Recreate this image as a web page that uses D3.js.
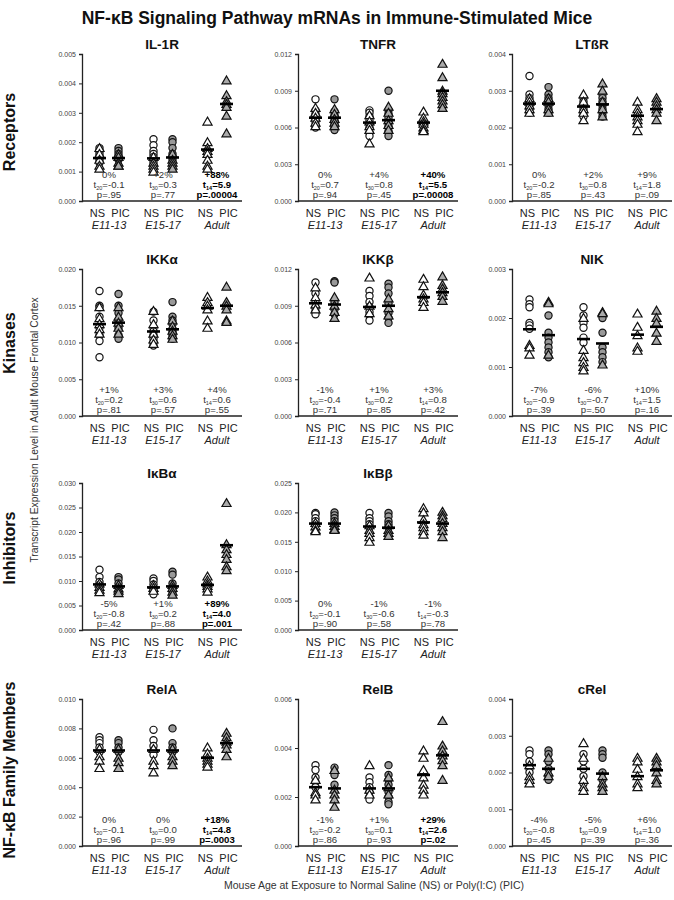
<!DOCTYPE html>
<html><head><meta charset="utf-8">
<script src="https://cdn.jsdelivr.net/npm/d3@7"></script>
<style>body{margin:0;background:#fff}svg{display:block}</style>
</head><body>
<script>
// ---------- DATA ----------
const ages = ["E11-13", "E15-17", "Adult"];
const treatments = ["NS", "PIC"];
const rowLabels = ["Receptors", "Kinases", "Inhibitors", "NF-κB Family Members"];
const geneNames = ["IL-1R", "TNFR", "LTßR", "IKKα", "IKKβ", "NIK", "IκBα", "IκBβ", "RelA", "RelB", "cRel"];
const geneRow = [0, 0, 0, 1, 1, 1, 2, 2, 3, 3, 3];
const geneCol = [0, 1, 2, 0, 1, 2, 0, 1, 0, 1, 2];
const yMax = [0.005, 0.012, 0.004, 0.020, 0.012, 0.003, 0.030, 0.025, 0.010, 0.006, 0.004];
const yStep = [0.001, 0.003, 0.001, 0.005, 0.003, 0.001, 0.005, 0.005, 0.002, 0.002, 0.001];

// groups order: NS E11-13, PIC E11-13, NS E15-17, PIC E15-17, NS Adult, PIC Adult ; each [circles, triangles]
const ptsIL1R = [
  [[0.0018,0.0017,0.0016,0.0015,0.0014,0.0013],[0.0018,0.0016,0.0014,0.0012,0.0011]],
  [[0.0018,0.0017,0.0016,0.0015,0.0014],[0.0016,0.0015,0.0013,0.0012,0.0012]],
  [[0.0021,0.0019,0.0017,0.0016,0.0015,0.0014,0.0013,0.0012],[0.0015,0.0013,0.0012,0.0011,0.0010]],
  [[0.0021,0.0020,0.0018,0.0016,0.0015,0.0014],[0.0016,0.0014,0.0013,0.0012,0.0011]],
  [[],[0.0027,0.0020,0.0018,0.0017,0.0016,0.0014,0.0012,0.0011]],
  [[],[0.0041,0.0036,0.0034,0.0033,0.0032,0.0029,0.0023]]];
const ptsTNFR = [
  [[0.0083,0.0074,0.0071,0.0068,0.0065,0.0062,0.0060],[0.0076,0.0072,0.0068,0.0064,0.0061]],
  [[0.0083,0.0073,0.0070,0.0066,0.0063,0.0060,0.0058],[0.0075,0.0071,0.0067,0.0064,0.0061]],
  [[0.0074,0.0072,0.0069,0.0066,0.0063,0.0060,0.0056,0.0053],[0.0070,0.0065,0.0061,0.0058,0.0047]],
  [[0.0090,0.0074,0.0071,0.0068,0.0064,0.0061,0.0057,0.0053],[0.0077,0.0072,0.0066,0.0062,0.0058]],
  [[],[0.0073,0.0068,0.0065,0.0063,0.0060,0.0058,0.0057]],
  [[],[0.0112,0.0101,0.0090,0.0088,0.0085,0.0082,0.0079,0.0076]]];
const ptsLTBR = [
  [[0.0034,0.0029,0.0028,0.0027,0.0026,0.0025,0.0024],[0.0028,0.0027,0.0026,0.0025,0.0024]],
  [[0.0031,0.0029,0.0028,0.0027,0.0026,0.0025,0.0024],[0.0028,0.0027,0.0025,0.0024]],
  [[0.0028,0.0027,0.0026,0.0025,0.0024,0.0023],[0.0029,0.0027,0.0025,0.0024,0.0022]],
  [[0.0029,0.0028,0.0027,0.0026,0.0025,0.0024,0.0023],[0.0032,0.0030,0.0027,0.0025,0.0023]],
  [[],[0.0027,0.0025,0.0024,0.0023,0.0022,0.0021,0.0019]],
  [[],[0.0028,0.0027,0.0026,0.0025,0.0024,0.0022]]];
const ptsIKKa = [
  [[0.0170,0.0150,0.0148,0.0135,0.0120,0.0110,0.0102,0.0080],[0.0148,0.0133,0.0125,0.0118,0.0112]],
  [[0.0166,0.0150,0.0140,0.0130,0.0120,0.0110,0.0105],[0.0148,0.0135,0.0127,0.0120,0.0112]],
  [[0.0142,0.0130,0.0120,0.0115,0.0110,0.0105,0.0100,0.0096],[0.0143,0.0125,0.0112,0.0104,0.0098]],
  [[0.0155,0.0135,0.0130,0.0125,0.0115,0.0110,0.0105],[0.0130,0.0122,0.0116,0.0110,0.0105]],
  [[],[0.0162,0.0155,0.0150,0.0145,0.0130,0.0120]],
  [[],[0.0176,0.0155,0.0150,0.0145,0.0130,0.0128]]];
const ptsIKKb = [
  [[0.0109,0.0100,0.0094,0.0088,0.0085,0.0083],[0.0105,0.0097,0.0091,0.0087]],
  [[0.0110,0.0109,0.0093,0.0087,0.0083],[0.0097,0.0090,0.0085,0.0080]],
  [[0.0102,0.0098,0.0093,0.0089,0.0085,0.0082,0.0078],[0.0113,0.0090,0.0084]],
  [[0.0108,0.0105,0.0100,0.0092,0.0084,0.0080,0.0076],[0.0096,0.0088,0.0082]],
  [[],[0.0112,0.0106,0.0099,0.0096,0.0093,0.0089]],
  [[],[0.0114,0.0107,0.0104,0.0101,0.0098,0.0094]]];
const ptsNIK = [
  [[0.00238,0.00228,0.00222,0.0019,0.00185,0.00178],[0.00145,0.0014,0.00125]],
  [[0.00205,0.0017,0.0016,0.0015,0.0014,0.0013,0.0012],[0.00233,0.0023,0.00125]],
  [[0.00222,0.00205,0.0019,0.0018,0.0016,0.0015],[0.0020,0.00135,0.0012,0.0011,0.0010,0.00093]],
  [[0.00205,0.0020,0.0017,0.0014,0.0013,0.0012,0.0011],[0.00212,0.0021,0.00105]],
  [[],[0.00209,0.00182,0.00165,0.0014,0.00133]],
  [[],[0.00215,0.0020,0.0019,0.0017,0.00153]]];
const ptsIkBa = [
  [[0.0123,0.0108,0.0098,0.0092,0.0087],[0.0095,0.0088,0.0082,0.0077]],
  [[0.0108,0.0103,0.0095,0.0088],[0.0092,0.0085,0.0080,0.0075]],
  [[0.0105,0.0100,0.0093,0.0085,0.0078,0.0073],[0.0092,0.0086,0.0080]],
  [[0.0119,0.0113,0.0095,0.0085,0.0078],[0.0092,0.0086,0.0078,0.0072]],
  [[],[0.0109,0.0101,0.0095,0.0090,0.0085,0.0078]],
  [[],[0.0259,0.0175,0.0165,0.0155,0.0145,0.0130,0.0122]]];
const ptsIkBb = [
  [[0.0199,0.0197,0.0190,0.0185,0.0180],[0.0182,0.0176,0.0170,0.0168]],
  [[0.0200,0.0195,0.0190,0.0185],[0.0182,0.0177,0.0172,0.0170]],
  [[0.0199,0.0190,0.0185,0.0180,0.0175],[0.0178,0.0170,0.0165,0.0158,0.0150]],
  [[0.0199,0.0193,0.0185,0.0180,0.0175],[0.0178,0.0170,0.0165,0.0160]],
  [[],[0.0207,0.0200,0.0187,0.0180,0.0175,0.0168,0.0162]],
  [[],[0.0201,0.0195,0.0190,0.0182,0.0175,0.0168,0.0158]]];
const ptsRelA = [
  [[0.0074,0.0072,0.0070,0.0067,0.0064],[0.0066,0.0061,0.0058,0.0053]],
  [[0.0072,0.0070,0.0067,0.0064],[0.0066,0.0060,0.0057,0.0053]],
  [[0.0079,0.0072,0.0068,0.0065,0.0062],[0.0066,0.0058,0.0055,0.0050]],
  [[0.0080,0.0070,0.0067,0.0064],[0.0066,0.0061,0.0058,0.0055]],
  [[],[0.0067,0.0063,0.0060,0.0058,0.0056,0.0054]],
  [[],[0.0077,0.0074,0.0071,0.0069,0.0066,0.0061]]];
const ptsRelB = [
  [[0.0033,0.0031,0.0028,0.0026,0.0024],[0.0027,0.0022,0.0021,0.0019]],
  [[0.0032,0.0030,0.0029,0.0025],[0.0031,0.0023,0.0021,0.0019,0.0016]],
  [[0.0028,0.0026,0.0024,0.0022,0.0020,0.0019],[0.0033,0.0023,0.0021]],
  [[0.0033,0.0029,0.0027,0.0025,0.0022,0.0020,0.0018,0.0017],[0.0028,0.0024,0.0021]],
  [[],[0.0039,0.0036,0.0031,0.0028,0.0025,0.0023,0.0021]],
  [[],[0.0051,0.0041,0.0039,0.0037,0.0035,0.0033,0.0027]]];
const ptsCRel = [
  [[0.0026,0.0025,0.0023,0.0021,0.0020],[0.0022,0.0019,0.0018,0.0017]],
  [[0.0026,0.0025,0.0023,0.0021,0.0019,0.0018],[0.0024,0.0020,0.0019]],
  [[0.0025,0.0023,0.0021,0.0019,0.0017],[0.0028,0.0024,0.0018,0.0016,0.0015]],
  [[0.0026,0.0025,0.0024,0.0020,0.0018],[0.0019,0.0017,0.0016,0.0015]],
  [[],[0.0024,0.0023,0.0021,0.0019,0.0017,0.0016]],
  [[],[0.0024,0.0023,0.0022,0.0020,0.0018,0.0017]]];
const genePoints = [ptsIL1R, ptsTNFR, ptsLTBR, ptsIKKa, ptsIKKb, ptsNIK, ptsIkBa, ptsIkBb, ptsRelA, ptsRelB, ptsCRel];

const groupMeans = [
  [0.00146,0.00146,0.00145,0.00148,0.00175,0.00330],
  [0.0068,0.0068,0.0064,0.0066,0.0064,0.0090],
  [0.00265,0.00265,0.00257,0.00263,0.00232,0.00250],
  [0.0125,0.0127,0.0115,0.0118,0.0147,0.0150],
  [0.0092,0.0091,0.0089,0.0090,0.0097,0.0101],
  [0.00177,0.00165,0.00157,0.00148,0.00166,0.00182],
  [0.0093,0.0089,0.0087,0.0089,0.0092,0.0173],
  [0.0181,0.0181,0.0176,0.0174,0.0183,0.0181],
  [0.0065,0.0065,0.0065,0.0065,0.0060,0.0070],
  [0.0024,0.00235,0.00235,0.00235,0.0029,0.0037],
  [0.0022,0.0021,0.0021,0.00197,0.0019,0.00206]];

const dfs = ["20", "30", "14"];
const pctChange = [
  ["0%","+2%","+88%"],["0%","+4%","+40%"],["0%","+2%","+9%"],
  ["+1%","+3%","+4%"],["-1%","+1%","+3%"],["-7%","-6%","+10%"],
  ["-5%","+1%","+89%"],["0%","-1%","-1%"],
  ["0%","0%","+18%"],["-1%","+1%","+29%"],["-4%","-5%","+6%"]];
const tValues = [
  ["-0.1","0.3","5.9"],["0.7","0.8","5.5"],["-0.2","0.8","1.8"],
  ["0.2","0.6","0.6"],["-0.4","0.2","0.8"],["-0.9","-0.7","1.5"],
  ["-0.8","0.2","4.0"],["-0.1","-0.6","-0.3"],
  ["-0.1","0.0","4.8"],["-0.2","0.1","2.6"],["-0.8","0.9","1.0"]];
const pValues = [
  [".95",".77",".00004"],[".94",".45",".00008"],[".85",".43",".09"],
  [".81",".57",".55"],[".71",".85",".42"],[".39",".50",".16"],
  [".42",".88",".001"],[".90",".58",".78"],
  [".96",".99",".0003"],[".86",".93",".02"],[".45",".39",".36"]];
const significant = [
  [0,0,1],[0,0,1],[0,0,0],[0,0,0],[0,0,0],[0,0,0],[0,0,1],[0,0,0],[0,0,1],[0,0,1],[0,0,0]];

// ---------- LAYOUT ----------
const W = 674, H = 900;
const colX = [82, 298, 512];
const rowTop = [54, 269, 483, 699];
const plotH = 147, plotW = 160;
const FONT = "Liberation Sans, Arial, sans-serif";
const NARROW = "'Liberation Sans Narrow', 'Arial Narrow', 'Liberation Sans', Arial, sans-serif";

const svg = d3.select("body").append("svg").attr("width", W).attr("height", H)
  .attr("font-family", FONT);

svg.append("text").attr("x", 337).attr("y", 24).attr("text-anchor", "middle")
  .attr("font-size", 17.5).attr("font-weight", "bold").attr("fill", "#111")
  .text("NF-κB Signaling Pathway mRNAs in Immune-Stimulated Mice");

const rowCenters = [132, 343, 548, 770];
rowLabels.forEach((t, i) => {
  svg.append("text").attr("transform", `translate(15,${rowCenters[i]}) rotate(-90)`)
    .attr("text-anchor", "middle").attr("font-size", 16).attr("font-weight", "bold").attr("fill", "#111")
    .text(t);
});
svg.append("text").attr("transform", "translate(38,430) rotate(-90)")
  .attr("text-anchor", "middle").attr("font-size", 10.3).attr("fill", "#333")
  .text("Transcript Expression Level in Adult Mouse Frontal Cortex");
svg.append("text").attr("x", 374).attr("y", 889).attr("text-anchor", "middle")
  .attr("font-size", 10.5).attr("fill", "#333")
  .text("Mouse Age at Exposure to Normal Saline (NS) or Poly(I:C) (PIC)");

const xAge = d3.scaleBand().domain(ages).range([0, 162]);
const xTrt = d3.scalePoint().domain(treatments).range([0, xAge.bandwidth()]).padding(0.92);
const triangle = d3.symbol().type(d3.symbolTriangle).size(36);

geneNames.forEach((name, gi) => {
  const ox = colX[geneCol[gi]], oy = rowTop[geneRow[gi]];
  const g = svg.append("g").attr("transform", `translate(${ox},${oy})`);
  const y = d3.scaleLinear().domain([0, yMax[gi]]).range([plotH, 0]);
  const ticks = d3.range(0, yMax[gi] + yStep[gi] / 2, yStep[gi]);
  const yAxis = d3.axisLeft(y).tickValues(ticks).tickFormat(d3.format(".3f")).tickSize(3).tickPadding(3);
  const ya = g.append("g").call(yAxis);
  ya.select(".domain").attr("stroke", "#222").attr("stroke-width", 1.3);
  ya.selectAll(".tick line").attr("stroke", "#222");
  ya.selectAll("text").attr("font-size", 7).attr("fill", "#444").attr("font-family", FONT);
  g.append("line").attr("x1", 0).attr("x2", plotW).attr("y1", plotH).attr("y2", plotH)
    .attr("stroke", "#222").attr("stroke-width", 1.3);

  g.append("text").attr("x", 80).attr("y", -5).attr("text-anchor", "middle")
    .attr("font-size", 13.5).attr("font-weight", "bold").attr("fill", "#111").text(name);

  const pts = genePoints[gi];
  ages.forEach((age, ai) => {
    treatments.forEach((trt, ti) => {
      const gidx = ai * 2 + ti;
      const cx = xAge(age) + xTrt(trt);
      const fill = trt === "NS" ? "#fff" : "#999";
      const triFill = trt === "NS" ? "#fff" : "#aaa";
      const [circ, tri] = pts[gidx];
      g.selectAll(null).data(circ).enter().append("circle")
        .attr("cx", cx).attr("cy", d => y(d)).attr("r", 3.6)
        .attr("fill", fill).attr("stroke", "#111").attr("stroke-width", 1.2);
      g.selectAll(null).data(tri).enter().append("path")
        .attr("d", triangle).attr("transform", d => `translate(${cx},${y(d) + 0.8})`)
        .attr("fill", triFill).attr("stroke", "#111").attr("stroke-width", 1.2);
      g.append("line").attr("x1", cx - 6.5).attr("x2", cx + 6.5)
        .attr("y1", y(groupMeans[gi][gidx])).attr("y2", y(groupMeans[gi][gidx]))
        .attr("stroke", "#000").attr("stroke-width", 2.6);
      g.append("text").attr("x", cx + (ti === 0 ? -2 : 2)).attr("y", plotH + 15.5).attr("text-anchor", "middle")
        .attr("font-size", 11).attr("fill", "#222").text(trt);
    });
    const cx = xAge(age) + xAge.bandwidth() / 2;
    g.append("text").attr("x", cx).attr("y", plotH + 27.5).attr("text-anchor", "middle")
      .attr("font-size", 11).attr("font-style", "italic").attr("fill", "#222").text(age);
    const sig = significant[gi][ai] === 1;
    const st = g.append("g").attr("font-family", NARROW).attr("font-size", 9.6)
      .attr("fill", sig ? "#000" : "#333").attr("font-weight", sig ? "bold" : "normal")
      .attr("text-anchor", "middle");
    st.append("text").attr("x", cx).attr("y", plotH - 23).text(pctChange[gi][ai]);
    const tl = st.append("text").attr("x", cx).attr("y", plotH - 13);
    tl.append("tspan").text("t");
    tl.append("tspan").attr("font-size", 5.5).attr("dy", 1.5).text(dfs[ai]);
    tl.append("tspan").attr("dy", -1.5).text("=" + tValues[gi][ai]);
    st.append("text").attr("x", cx).attr("y", plotH - 2.8).text("p=" + pValues[gi][ai]);
  });
});
</script>
</body></html>
